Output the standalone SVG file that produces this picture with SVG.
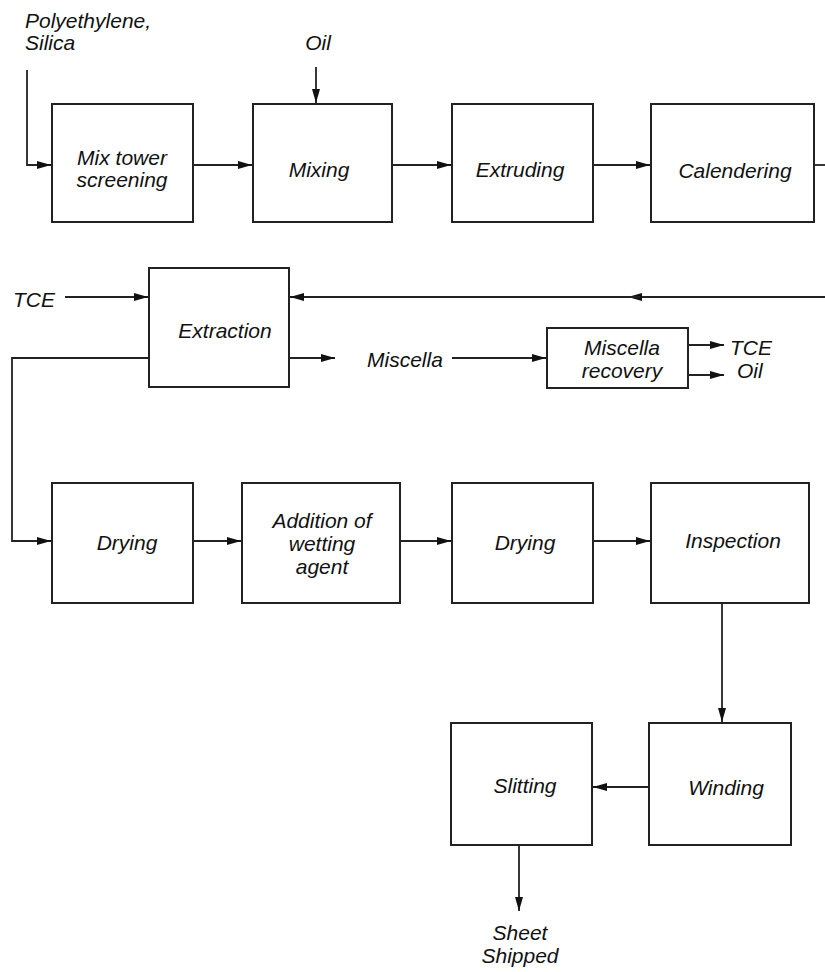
<svg xmlns="http://www.w3.org/2000/svg" width="825" height="972" viewBox="0 0 825 972">
<style>
.box{fill:#fff;stroke:#222;stroke-width:2}
.ln{fill:none;stroke:#222;stroke-width:1.8}
.t{font-family:"Liberation Sans",Arial,sans-serif;font-style:italic;font-size:21px;fill:#111}
.m{text-anchor:middle}
</style>
<defs>
<marker id="ah" viewBox="0 0 14 8" refX="14" refY="4" markerWidth="14" markerHeight="8" markerUnits="userSpaceOnUse" orient="auto">
<path d="M0,0 L14,4 L0,8 Z" fill="#111"/>
</marker>
</defs>
<rect width="825" height="972" fill="#fff"/>
<g id="connectors">
<path class="ln" d="M27,70 V165 H51" marker-end="url(#ah)"/>
<path class="ln" d="M316,67 V103" marker-end="url(#ah)"/>
<path class="ln" d="M193,165 H252" marker-end="url(#ah)"/>
<path class="ln" d="M392,165 H451" marker-end="url(#ah)"/>
<path class="ln" d="M593,165 H650" marker-end="url(#ah)"/>
<path class="ln" d="M814,165 H825"/>
<path class="ln" d="M65,297 H148" marker-end="url(#ah)"/>
<path class="ln" d="M825,297 H628" marker-end="url(#ah)"/>
<path class="ln" d="M640,297 H290" marker-end="url(#ah)"/>
<path class="ln" d="M289,358 H335" marker-end="url(#ah)"/>
<path class="ln" d="M452,358 H546" marker-end="url(#ah)"/>
<path class="ln" d="M688,345 H724" marker-end="url(#ah)"/>
<path class="ln" d="M688,375 H724" marker-end="url(#ah)"/>
<path class="ln" d="M149,358 H12 V541 H51" marker-end="url(#ah)"/>
<path class="ln" d="M193,541 H241" marker-end="url(#ah)"/>
<path class="ln" d="M400,541 H451" marker-end="url(#ah)"/>
<path class="ln" d="M593,541 H650" marker-end="url(#ah)"/>
<path class="ln" d="M722,603 V722" marker-end="url(#ah)"/>
<path class="ln" d="M649,787 H593" marker-end="url(#ah)"/>
<path class="ln" d="M519,845 V911" marker-end="url(#ah)"/>
</g>
<g id="labels">
<text class="t" x="25" y="28">Polyethylene,</text>
<text class="t" x="25" y="50">Silica</text>
<text class="t m" x="318" y="50">Oil</text>
<text class="t" x="13" y="307">TCE</text>
<text class="t" x="367" y="367">Miscella</text>
<text class="t" x="730" y="355">TCE</text>
<text class="t" x="737" y="378">Oil</text>
<text class="t m" x="520" y="940">Sheet</text>
<text class="t m" x="520" y="963">Shipped</text>
</g>
<g id="mix-tower"><rect class="box" x="52" y="104" width="141" height="118"/><text class="t m" x="122" y="165">Mix tower</text><text class="t m" x="122" y="187">screening</text></g>
<g id="mixing"><rect class="box" x="253" y="104" width="139" height="118"/><text class="t m" x="319" y="177">Mixing</text></g>
<g id="extruding"><rect class="box" x="452" y="104" width="141" height="118"/><text class="t m" x="520" y="177">Extruding</text></g>
<g id="calendering"><rect class="box" x="651" y="104" width="163" height="118"/><text class="t m" x="735" y="178">Calendering</text></g>
<g id="extraction"><rect class="box" x="149" y="268" width="140" height="119"/><text class="t m" x="225" y="338">Extraction</text></g>
<g id="miscella-recovery"><rect class="box" x="547" y="328" width="141" height="60"/><text class="t m" x="622" y="355">Miscella</text><text class="t m" x="622" y="378">recovery</text></g>
<g id="drying1"><rect class="box" x="52" y="483" width="141" height="120"/><text class="t m" x="127" y="550">Drying</text></g>
<g id="addition"><rect class="box" x="242" y="483" width="158" height="120"/><text class="t m" x="322" y="528">Addition of</text><text class="t m" x="322" y="551">wetting</text><text class="t m" x="322" y="574">agent</text></g>
<g id="drying2"><rect class="box" x="452" y="483" width="141" height="120"/><text class="t m" x="525" y="550">Drying</text></g>
<g id="inspection"><rect class="box" x="651" y="483" width="158" height="120"/><text class="t m" x="733" y="548">Inspection</text></g>
<g id="winding"><rect class="box" x="649" y="723" width="142" height="122"/><text class="t m" x="726" y="795">Winding</text></g>
<g id="slitting"><rect class="box" x="451" y="723" width="141" height="122"/><text class="t m" x="525" y="793">Slitting</text></g>
</svg>
